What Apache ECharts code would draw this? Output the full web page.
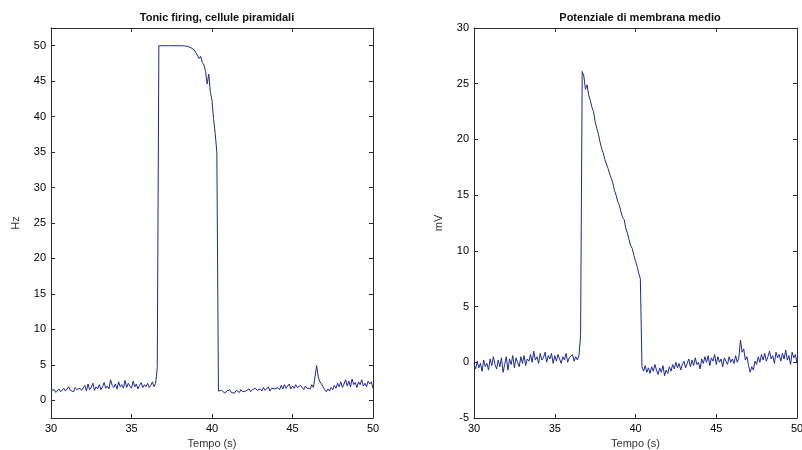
<!DOCTYPE html>
<html>
<head>
<meta charset="utf-8">
<script src="https://cdn.jsdelivr.net/npm/echarts@6/dist/echarts.min.js"></script>
<style>
html,body{margin:0;padding:0;background:#fff;}
#c{width:802px;height:450px;}
</style>
</head>
<body>
<div id="c"></div>
<script>
// ---- DATA ----
const tempo = [
30.0,30.1,30.2,30.3,30.4,30.5,30.6,30.7,30.8,30.9,
31.0,31.1,31.2,31.3,31.4,31.5,31.6,31.7,31.8,31.9,
32.0,32.1,32.2,32.3,32.4,32.5,32.6,32.7,32.8,32.9,
33.0,33.1,33.2,33.3,33.4,33.5,33.6,33.7,33.8,33.9,
34.0,34.1,34.2,34.3,34.4,34.5,34.6,34.7,34.8,34.9,
35.0,35.1,35.2,35.3,35.4,35.5,35.6,35.7,35.8,35.9,
36.0,36.1,36.2,36.3,36.4,36.5,36.6,36.7,36.8,36.9,
37.0,37.1,37.2,37.3,37.4,37.5,37.6,37.7,37.8,37.9,
38.0,38.1,38.2,38.3,38.4,38.5,38.6,38.7,38.8,38.9,
39.0,39.1,39.2,39.3,39.4,39.5,39.6,39.7,39.8,39.9,
40.0,40.1,40.2,40.3,40.4,40.5,40.6,40.7,40.8,40.9,
41.0,41.1,41.2,41.3,41.4,41.5,41.6,41.7,41.8,41.9,
42.0,42.1,42.2,42.3,42.4,42.5,42.6,42.7,42.8,42.9,
43.0,43.1,43.2,43.3,43.4,43.5,43.6,43.7,43.8,43.9,
44.0,44.1,44.2,44.3,44.4,44.5,44.6,44.7,44.8,44.9,
45.0,45.1,45.2,45.3,45.4,45.5,45.6,45.7,45.8,45.9,
46.0,46.1,46.2,46.3,46.4,46.5,46.6,46.7,46.8,46.9,
47.0,47.1,47.2,47.3,47.4,47.5,47.6,47.7,47.8,47.9,
48.0,48.1,48.2,48.3,48.4,48.5,48.6,48.7,48.8,48.9,
49.0,49.1,49.2,49.3,49.4,49.5,49.6,49.7,49.8,49.9,
50.0
];

// Tonic firing, cellule piramidali (Hz)
const firing = [
1.4,1.2,1.5,1.1,1.3,1.6,1.2,1.4,1.7,1.3,
1.5,1.9,1.4,1.6,1.2,1.8,1.5,1.3,1.7,1.4,
1.6,2.1,1.3,2.3,1.5,1.8,2.4,1.4,1.9,1.6,
2.2,1.5,1.9,2.5,1.7,2.0,1.6,2.9,2.1,1.8,
2.3,1.6,2.6,1.9,2.2,1.7,2.8,1.8,2.4,2.0,
1.7,2.7,1.9,2.3,1.6,2.1,2.5,1.8,2.2,1.9,
2.4,1.8,2.1,2.6,1.9,2.4,4.6,50.0,50.0,50.0,
50.0,50.0,50.0,50.0,50.0,50.0,50.0,50.0,50.0,50.0,
50.0,50.0,49.98,49.97,49.95,49.9,49.85,49.7,49.5,49.4,
49.0,48.9,48.2,48.5,47.6,47.3,46.4,44.6,46.0,43.4,
42.3,39.6,37.6,35.0,1.3,1.1,1.4,1.2,1.0,1.3,
1.2,1.5,1.1,1.3,1.0,1.4,1.2,1.1,1.5,1.2,
1.0,1.3,1.1,1.6,1.2,1.5,1.3,1.7,1.4,1.2,
1.6,1.3,1.8,1.4,1.5,1.9,1.3,1.7,1.5,1.6,
1.4,1.8,1.5,2.1,1.6,2.2,1.7,1.9,2.3,1.6,
2.0,1.7,2.2,1.8,1.6,2.1,1.9,1.5,2.0,1.7,
1.9,1.6,2.2,1.8,2.0,4.9,3.3,2.6,2.3,1.9,
1.5,1.2,1.6,1.3,1.8,1.5,2.1,1.7,2.4,1.9,
2.6,1.8,2.3,2.9,2.0,2.7,1.9,3.0,2.2,2.5,
1.8,2.6,2.2,2.9,2.0,2.4,1.9,2.7,2.3,2.6,
1.7
];

// Potenziale di membrana medio (mV)
const potenziale = [
-0.2,-0.6,0.1,-0.5,-0.1,-0.8,0.2,-0.4,-0.1,-0.7,
0.3,-0.3,0.5,-0.2,-0.6,0.2,-0.4,0.4,-0.9,-0.2,
0.5,-0.7,0.3,-0.2,0.6,-0.5,0.4,0.0,-0.4,0.5,
-0.1,0.6,-0.3,0.3,0.1,0.7,0.0,1.0,0.2,0.5,
-0.1,0.8,0.2,0.4,0.9,0.0,0.6,0.3,0.8,-0.1,
0.6,0.1,0.7,0.3,-0.1,0.5,0.2,0.8,0.0,0.4,
0.3,0.7,0.1,0.5,0.2,0.6,2.4,26.1,25.7,24.5,
24.9,24.0,23.5,22.9,22.5,21.6,21.0,20.5,19.8,19.2,
18.8,18.2,17.8,17.4,16.9,16.5,16.1,15.4,15.0,14.4,
14.1,13.5,13.0,12.8,12.0,11.6,11.0,10.5,10.2,9.6,
9.1,8.6,8.0,7.5,-0.4,-0.8,-0.3,-0.9,-0.5,-1.0,
-0.4,-0.8,-0.2,-0.7,-1.1,-0.5,-0.9,-0.3,-1.2,-0.7,
-1.0,-0.4,-0.8,-0.2,-0.6,0.0,-0.5,-0.1,-0.7,-0.2,
0.1,-0.5,-0.1,0.3,-0.4,0.2,-0.3,0.4,-0.2,0.0,
-0.6,0.3,-0.1,0.5,0.0,0.6,-0.3,0.4,0.1,0.7,
-0.2,0.5,0.0,0.3,-0.4,0.4,0.1,-0.2,0.5,0.0,
0.3,-0.1,0.6,0.0,0.4,2.0,0.9,1.2,0.2,0.5,
-0.3,-0.9,-0.4,-0.7,0.1,-0.2,0.5,0.0,0.7,0.2,
0.8,0.1,0.5,1.0,0.3,0.6,-0.1,0.9,0.4,0.7,
0.1,0.8,0.3,1.1,0.2,0.6,-0.2,0.9,0.4,0.7,
-0.1
];

const xTicks = [30, 35, 40, 45, 50];
const hzTicks = [0, 5, 10, 15, 20, 25, 30, 35, 40, 45, 50];
const mvTicks = [-5, 0, 5, 10, 15, 20, 25, 30];

// ---- CHART ----
const FONT = '"Liberation Sans", Arial, sans-serif';
const AX = '#2b2b2b';
const LINE = '#1f2a96';

function xAx(gi, pos, labels) {
  return {
    type: 'value', gridIndex: gi, position: pos,
    min: 30, max: 50, interval: 5,
    axisLine: { show: true, onZero: false, lineStyle: { color: AX, width: 1 } },
    axisTick: { show: true, inside: true, length: 4, customValues: xTicks, lineStyle: { color: AX } },
    axisLabel: { show: labels, customValues: xTicks, color: '#000', fontFamily: FONT, fontSize: 11, margin: 5 },
    splitLine: { show: false },
    name: labels ? 'Tempo (s)' : '',
    nameLocation: 'middle', nameGap: 20,
    nameTextStyle: { color: '#333', fontFamily: FONT, fontSize: 11 }
  };
}
function yAx(gi, pos, labels, mn, mx, ticks, name) {
  return {
    type: 'value', gridIndex: gi, position: pos,
    min: mn, max: mx,
    axisLine: { show: true, onZero: false, lineStyle: { color: AX, width: 1 } },
    axisTick: { show: true, inside: true, length: 4, customValues: ticks, lineStyle: { color: AX } },
    axisLabel: { show: labels, customValues: ticks, color: '#000', fontFamily: FONT, fontSize: 11, margin: 5 },
    splitLine: { show: false },
    name: labels ? name : '',
    nameLocation: 'middle', nameGap: 30,
    nameTextStyle: { color: '#333', fontFamily: FONT, fontSize: 11 }
  };
}

const chart = echarts.init(document.getElementById('c'), null, { renderer: 'canvas' });
chart.setOption({
  animation: false,
  backgroundColor: '#fff',
  title: [
    { text: 'Tonic firing, cellule piramidali', left: 212, top: 7, textAlign: 'center',
      textStyle: { fontFamily: FONT, fontSize: 11, fontWeight: 'bold', color: '#111' } },
    { text: 'Potenziale di membrana medio', left: 635, top: 7, textAlign: 'center',
      textStyle: { fontFamily: FONT, fontSize: 11, fontWeight: 'bold', color: '#111' } }
  ],
  grid: [
    { left: 51, top: 28, width: 322, height: 390, outerBoundsMode: 'none', containLabel: false },
    { left: 474, top: 28, width: 323, height: 390, outerBoundsMode: 'none', containLabel: false }
  ],
  xAxis: [
    xAx(0, 'bottom', true), xAx(0, 'top', false),
    xAx(1, 'bottom', true), xAx(1, 'top', false)
  ],
  yAxis: [
    yAx(0, 'left', true, -2.5, 52.5, hzTicks, 'Hz'),
    yAx(0, 'right', false, -2.5, 52.5, hzTicks, ''),
    yAx(1, 'left', true, -5, 30, mvTicks, 'mV'),
    yAx(1, 'right', false, -5, 30, mvTicks, '')
  ],
  series: [
    { type: 'line', xAxisIndex: 0, yAxisIndex: 0, showSymbol: false, symbol: 'none',
      lineStyle: { color: LINE, width: 1 }, data: tempo.map((t, i) => [t, firing[i]]) },
    { type: 'line', xAxisIndex: 2, yAxisIndex: 2, showSymbol: false, symbol: 'none',
      lineStyle: { color: LINE, width: 1 }, data: tempo.map((t, i) => [t, potenziale[i]]) }
  ]
});
</script>
</body>
</html>
